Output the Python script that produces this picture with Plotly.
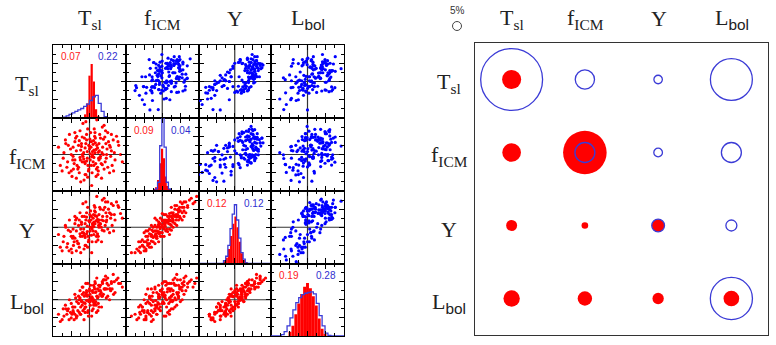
import plotly.graph_objects as go

# ---------------- data ----------------
var_labels = ["T<sub>sl</sub>", "f<sub>ICM</sub>", "Y",
              "L<sub><span style=\"font-family:Liberation Sans\">bol</span></sub>"]

# red sample cloud (lower triangle), standardised units (x100)
red_T = [12,-45,30,-10,60,-25,5,40,-60,15,-5,25,-35,50,-15,0,70,-50,20,-20,
         35,-70,10,45,-30,-8,55,-40,8,28,-12,65,-55,18,-22,38,-2,80,-80,3,
         22,-45,48,-18,12,-28,32,-65,6,42,-6,16,-36,58,-14,26,-48,4,90,-26,
         34,-4,52,-42,14,-72,24,-16,44,-32,10,62,-52,2,36,-24,20,-62,30,-10,
         46,-38,7,74,-20,13,-46,27,-3,55,-85,17,-30,40,-12,68,-56,1,33,-40,
         22,-18,50,-28,9,78,-66,19,-8,43,-44,11,-24,60,-36,26,-50,5,38,-14,
         66,-2,29,-58,15,-34,47,-10,23,-75,8,-20,57,-5,35,-40,16,-26,85,-12,
         2,-6,6,-16,18,12,-8,24,0,-22]
red_f = [-30,20,45,-55,10,-15,35,-40,-20,5,70,-10,50,60,-70,15,-15,-45,25,0,
         75,5,-20,30,-35,40,-50,35,-5,55,-25,40,55,-60,22,0,-40,25,-30,60,
         -35,-5,15,85,12,-50,-25,30,-85,48,-10,32,10,-5,45,-15,-60,20,-20,65,
         5,-30,35,-25,50,-10,-45,5,65,-40,28,-30,15,-15,20,-75,95,-35,-5,30,
         -10,45,-50,50,-20,70,-15,10,-45,25,20,-25,25,80,-55,5,-50,42,-65,60,
         18,-5,-35,38,0,35,40,-40,55,-20,-40,38,12,55,-65,30,0,-30,42,-20,
         -45,25,-10,25,60,-30,0,90,-55,-45,8,48,20,-62,-28,-15,45,-8,0,18,
         2,8,-6,-12,14,-8,-18,6,22,30]
red_Y = [-20,-5,50,-50,35,-25,30,-10,-45,10,55,5,25,70,-60,15,20,-60,30,-15,
         75,-25,-10,40,-45,28,-15,10,0,55,-28,60,20,-40,8,18,-35,55,-55,45,
         -18,-25,30,65,14,-55,0,0,-70,55,-12,32,-10,25,30,0,-70,20,25,40,
         20,-25,50,-40,45,-40,-25,-5,70,-45,25,5,-12,-10,30,-70,85,-55,10,20,
         15,20,-40,70,-25,60,-30,20,-40,40,-20,-12,5,80,-50,35,-65,35,-40,30,
         22,-15,-5,20,5,60,5,-25,40,5,-50,35,-5,65,-65,35,-25,-22,48,-22,
         -10,18,8,-8,55,-38,20,70,-35,-65,10,30,38,-55,-8,-30,42,-18,38,10,
         0,3,-4,-16,18,2,-18,14,18,14]
red_L = [-15,-30,40,-20,50,-40,5,30,-30,-10,45,40,-5,60,-55,30,20,-50,10,15,
         50,-45,-25,55,-10,20,0,-20,25,35,-35,70,0,-15,-5,15,-5,45,-60,40,
         5,-20,45,35,0,-35,20,-25,-45,30,10,45,-45,25,10,-20,-40,5,35,25,
         10,-30,40,-55,30,-25,-10,20,65,-30,-5,30,-35,-15,45,-40,60,-40,25,15,
         5,5,-30,55,-15,35,-20,40,-45,30,-40,-5,10,55,-20,50,-55,15,-20,15,
         30,-30,10,0,20,60,-15,-35,25,30,-35,40,-20,45,-50,25,-10,0,55,-25,
         15,0,15,-25,50,-45,30,45,-30,-55,5,35,30,-35,10,-40,20,5,45,-10,
         -5,12,8,-8,22,-12,-2,8,24,-2]

# blue sample cloud (upper triangle)
blue_T = [8,18,28,36,-24,-26,50,-26,52,-19,64,20,-14,-14,62,-63,2,42,44,-30,
          44,-28,-5,47,-13,60,28,60,-77,30,9,13,48,60,-78,32,43,-16,-22,46,
          30,26,6,-11,52,10,52,-48,24,-22,68,-11,-17,49,10,-2,56,-16,-10,30,
          -14,13,60,13,34,-52,-19,48,-2,14,49,-38,16,53,35,2,-23,-17,40,-15,
          -25,9,68,-50,74,45,-22,-24,43,24,-31,24,13,24,-14,0,42,50,16,-8,
          -13,57,36,20,-32,2,48,-2,-32,38,17,4,21,4,32,-14,-3,46,2,-2,
          13,38,-8,-26,57,2,23,-4,-50,35,8,5,37,12,56,36,50,-46,-4,54,
          2,-29,39,42,12,32,14,0,24,53]
blue_f = [39,-35,-7,48,-32,57,14,3,-23,8,16,65,-51,3,77,-49,-17,22,32,40,
          -10,25,25,16,36,-36,48,25,-11,-13,69,-56,45,41,-34,-8,69,-29,-10,23,
          -1,18,46,-73,22,55,-24,5,29,-9,47,17,-21,32,-1,60,0,-43,2,51,
          -28,41,49,-46,48,-27,13,-17,8,19,37,-63,20,57,23,-10,63,-71,25,33,
          -75,40,33,21,-1,32,9,-1,49,-19,-28,0,42,31,-23,26,16,10,-4,-18,
          64,31,-33,55,-45,-17,57,8,-4,12,-14,62,-10,-13,57,-52,-7,46,25,13,
          -28,45,-8,-29,46,12,-1,38,-55,15,68,-27,-17,42,39,9,13,11,11,43,
          -29,45,-6,-1,48,-7,-12,21,35,-6]
blue_Y = [40,-25,55,30,-70,20,65,5,45,-20,35,50,-35,30,45,-90,38,-5,70,0,
          42,25,-50,60,10,15,55,50,-60,28,48,-10,75,35,-40,45,40,-65,25,30,
          65,-20,52,-30,45,50,10,-75,48,18,62,-30,40,70,-35,25,58,-80,28,35,
          -5,68,15,-10,55,-95,30,55,-45,48,20,-55,58,12,72,-25,38,-60,50,22,
          -50,42,55,-15,48,78,-60,15,40,35,-80,42,62,-15,45,-15,60,0,52,-55,
          32,60,-5,50,-75,38,62,-45,18,62,-40,20,58,-30,45,-70,38,52,-25,55,
          12,75,-55,35,60,-55,40,30,-100,50,55,-28,38,45,15,65,22,-65,52,55,
          -40,8,48,32,38,-12,55,-15,42,40]
blue_L = [35,-49,66,12,-12,-5,49,39,-11,0,1,58,19,18,-1,-58,58,-44,52,25,
          16,59,-32,15,28,-39,76,48,-65,66,36,-32,71,-14,0,39,20,-24,69,-12,
          69,-20,-6,12,44,22,48,-76,61,14,16,-8,75,42,-66,49,48,-40,-4,61,
          6,6,11,18,21,-31,-12,56,-29,31,-25,-11,54,-6,92,-44,48,-45,8,66,
          -22,22,76,-46,41,38,-15,51,-15,36,-60,56,31,34,4,9,40,-40,54,-6,
          4,55,36,12,-26,-16,52,-9,4,12,-10,60,14,-22,49,-18,14,-1,11,51,
          4,36,-16,66,10,-26,30,-8,-25,43,61,-61,39,64,-4,24,62,-44,19,41,
          5,-4,6,39,29,16,-4,9,42,15]

# diagonal histograms: bin centres (fraction of panel) and heights (fraction of panel)
tsl_red_x = [0.44, 0.47, 0.50, 0.53, 0.56, 0.59, 0.62]
tsl_red_h = [0.05, 0.20, 0.58, 0.74, 0.50, 0.12, 0.03]
tsl_blue_x = [0.16, 0.20, 0.24, 0.28, 0.32, 0.36, 0.40, 0.44, 0.48, 0.52, 0.56, 0.60, 0.64, 0.68, 0.72]
tsl_blue_h = [0.01, 0.03, 0.05, 0.07, 0.09, 0.11, 0.13, 0.16, 0.19, 0.24, 0.29, 0.31, 0.20, 0.09, 0.02]
ficm_red_x = [0.40, 0.425, 0.45, 0.475, 0.50, 0.525, 0.55, 0.575, 0.60]
ficm_red_h = [0.02, 0.05, 0.15, 0.38, 0.58, 0.45, 0.20, 0.07, 0.02]
ficm_blue_x = [0.42, 0.45, 0.48, 0.51, 0.54, 0.57, 0.60]
ficm_blue_h = [0.03, 0.12, 0.62, 1.50, 0.60, 0.12, 0.03]
y_red_x = [0.36, 0.39, 0.42, 0.45, 0.48, 0.51, 0.54, 0.57, 0.60, 0.63, 0.66]
y_red_h = [0.03, 0.08, 0.20, 0.38, 0.55, 0.65, 0.50, 0.30, 0.14, 0.05, 0.01]
y_blue_x = [0.36, 0.39, 0.42, 0.45, 0.48, 0.51, 0.54, 0.57, 0.60, 0.63, 0.66]
y_blue_h = [0.04, 0.10, 0.25, 0.48, 0.68, 0.81, 0.60, 0.35, 0.15, 0.06, 0.01]
lbol_red_x = [0.26, 0.30, 0.34, 0.38, 0.42, 0.46, 0.50, 0.54, 0.58, 0.62, 0.66, 0.70, 0.74]
lbol_red_h = [0.06, 0.14, 0.30, 0.45, 0.58, 0.68, 0.73, 0.66, 0.55, 0.42, 0.24, 0.10, 0.03]
lbol_blue_x = [0.16, 0.20, 0.24, 0.28, 0.32, 0.36, 0.40, 0.44, 0.48, 0.52, 0.56, 0.60, 0.64, 0.68, 0.72, 0.76, 0.80]
lbol_blue_h = [0.02, 0.06, 0.14, 0.25, 0.36, 0.46, 0.53, 0.57, 0.59, 0.60, 0.61, 0.58, 0.45, 0.28, 0.14, 0.04, 0.01]
red_bin_w = [0.03, 0.025, 0.03, 0.04]
blue_bin_w = [0.04, 0.03, 0.03, 0.04]

red_sigma = ["0.07", "0.09", "0.12", "0.19"]
blue_sigma = ["0.22", "0.04", "0.12", "0.28"]

# bubble matrix (percent); None = no circle
blue_pct = [[34.4, 10.7, 4.7, 23.3],
            [None, 11.1, 4.8, 11.1],
            [None, None, 7.1, 6.1],
            [None, None, None, 23.4]]
red_pct = [[10.6, None, None, None],
           [10.4, 24.2, None, None],
           [6.1, 3.7, 7.0, None],
           [9.1, 8.0, 6.3, 8.7]]
legend_pct = 5

# ---------------- figure ----------------
W, H = 776, 345
RED = "#ff0000"
BLUE = "#0000ff"
RING = "#3b3bd6"
SERIF = "Liberation Serif"
SANS = "Liberation Sans"

col_px = [53, 126, 198.5, 271, 344]
row_px = [45, 118, 191, 263.5, 336]


def px(x):
    return x / W


def py(y):
    return 1 - y / H


red = [red_T, red_f, red_Y, red_L]
blue = [blue_T, blue_f, blue_Y, blue_L]
hist_red = [(tsl_red_x, tsl_red_h), (ficm_red_x, ficm_red_h), (y_red_x, y_red_h), (lbol_red_x, lbol_red_h)]
hist_blue = [(tsl_blue_x, tsl_blue_h), (ficm_blue_x, ficm_blue_h), (y_blue_x, y_blue_h), (lbol_blue_x, lbol_blue_h)]

fig = go.Figure()
layout = dict(width=W, height=H, autosize=False, margin=dict(l=0, r=0, t=0, b=0),
              paper_bgcolor="white", plot_bgcolor="white", showlegend=False,
              barmode="overlay")
shapes = []
annotations = []


def add_text(x, y, text, size, color, family):
    annotations.append(dict(x=px(x), y=py(y), xref="paper", yref="paper", text=text,
                            showarrow=False, xanchor="center", yanchor="middle",
                            font=dict(family=family, size=size, color=color)))


axis_common = dict(showline=True, mirror="ticks", linecolor="black", linewidth=1.3,
                   ticks="inside", ticklen=5, tickwidth=1, tickcolor="black",
                   showticklabels=False, showgrid=False, zeroline=False, fixedrange=True)

for i in range(4):
    for j in range(4):
        k = i * 4 + j + 1
        xs = "" if k == 1 else str(k)
        xa, ya = "x" + xs, "y" + xs
        xdom = [px(col_px[j]), px(col_px[j + 1])]
        ydom = [py(row_px[i + 1]), py(row_px[i])]
        if i == j:
            rng = [0, 1]
            dt, mdt = 0.25, 0.125
        else:
            rng = [-100, 100]
            dt, mdt = 50, 25
        xax = dict(axis_common, domain=xdom, anchor=ya, range=rng, tick0=rng[0], dtick=dt,
                   minor=dict(ticks="inside", ticklen=3, tickcolor="black", dtick=mdt, tick0=rng[0]))
        yax = dict(axis_common, domain=ydom, anchor=xa, range=rng, tick0=rng[0], dtick=dt,
                   minor=dict(ticks="inside", ticklen=3, tickcolor="black", dtick=mdt, tick0=rng[0]))
        layout["xaxis" + xs] = xax
        layout["yaxis" + xs] = yax

        if i == j:
            rx, rh = hist_red[i]
            fig.add_trace(go.Bar(x=rx, y=rh, width=red_bin_w[i], marker=dict(color=RED, line=dict(width=0)),
                                 xaxis=xa, yaxis=ya))
            bx, bh = hist_blue[i]
            w = blue_bin_w[i]
            lefts = [c - w / 2 for c in bx]
            sx = [0] + lefts + [bx[-1] + w / 2, 1]
            sy = [0] + list(bh) + [0, 0]
            fig.add_trace(go.Scatter(x=sx, y=sy, mode="lines", line=dict(color=RING, width=1.3, shape="hv"),
                                     xaxis=xa, yaxis=ya))
            cx0, cx1 = col_px[j], col_px[j + 1]
            ty = row_px[i] + 12
            add_text(cx0 + 0.25 * (cx1 - cx0), ty, red_sigma[i], 10, "#ff2020", SANS)
            add_text(cx0 + 0.76 * (cx1 - cx0), ty, blue_sigma[i], 10, "#3030d0", SANS)
        else:
            src = blue if j > i else red
            col = BLUE if j > i else RED
            fig.add_trace(go.Scatter(x=src[j], y=src[i], mode="markers",
                                     marker=dict(size=3.2, color=col, opacity=1, line=dict(width=0)),
                                     xaxis=xa, yaxis=ya))
            shapes.append(dict(type="line", xref=xa, yref=ya, x0=0, x1=0, y0=-100, y1=100,
                               line=dict(color="#333", width=1.2), layer="below"))
            shapes.append(dict(type="line", xref=xa, yref=ya, x0=-100, x1=100, y0=0, y1=0,
                               line=dict(color="#333", width=1.2), layer="below"))

# bubble panel
layout["xaxis17"] = dict(domain=[px(475), px(768)], anchor="y17", range=[0.5, 4.5],
                         showline=True, mirror=True, linecolor="#333", linewidth=1.3,
                         showticklabels=False, ticks="", showgrid=False, zeroline=False, fixedrange=True)
layout["yaxis17"] = dict(domain=[py(335), py(43)], anchor="x17", range=[4.5, 0.5],
                         showline=True, mirror=True, linecolor="#333", linewidth=1.3,
                         showticklabels=False, ticks="", showgrid=False, zeroline=False, fixedrange=True)

PX_PER_PCT = 1.8  # marker diameter per percent
rx, ry, rs = [], [], []
bx, by, bs = [], [], []
for i in range(4):
    for j in range(4):
        if red_pct[i][j] is not None:
            rx.append(j + 1); ry.append(i + 1); rs.append(red_pct[i][j] * PX_PER_PCT)
        if blue_pct[i][j] is not None:
            bx.append(j + 1); by.append(i + 1); bs.append(blue_pct[i][j] * PX_PER_PCT)
fig.add_trace(go.Scatter(x=rx, y=ry, mode="markers", xaxis="x17", yaxis="y17",
                         marker=dict(size=rs, color=RED, opacity=1, line=dict(width=0))))
fig.add_trace(go.Scatter(x=bx, y=by, mode="markers", xaxis="x17", yaxis="y17",
                         marker=dict(size=bs, color=RING, opacity=1, symbol="circle-open",
                                     line=dict(width=1.3))))

# legend circle (5%)
lr = legend_pct * PX_PER_PCT / 2
shapes.append(dict(type="circle", xref="paper", yref="paper",
                   x0=px(457 - lr), x1=px(457 + lr), y0=py(26 + lr), y1=py(26 - lr),
                   line=dict(color="#444", width=1)))
add_text(457, 11, f"{legend_pct}%", 10, "#333", SANS)

# labels
for j in range(4):
    cx = (col_px[j] + col_px[j + 1]) / 2
    add_text(cx, 19, var_labels[j], 22, "#222", SERIF)
    add_text(512 + 73.3 * j, 19, var_labels[j], 22, "#222", SERIF)
for i in range(4):
    cy = (row_px[i] + row_px[i + 1]) / 2
    add_text(27, cy + 3, var_labels[i], 22, "#222", SERIF)
    add_text(449, 80 + 73.3 * i + 3, var_labels[i], 22, "#222", SERIF)

layout["shapes"] = shapes
layout["annotations"] = annotations
fig.update_layout(**layout)
fig.write_html("out.html")
